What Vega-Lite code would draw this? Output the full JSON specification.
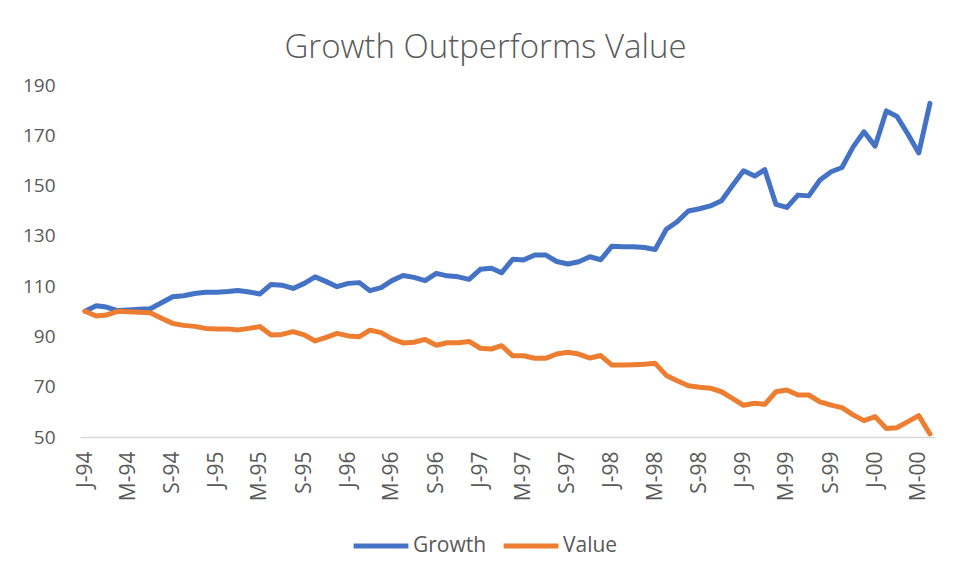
{
  "$schema": "https://vega.github.io/schema/vega-lite/v6.json",
  "width": 855,
  "height": 352,
  "autosize": "none",
  "padding": {"left": 80, "top": 85, "right": 26, "bottom": 140},
  "background": "white",
  "config": {"view": {"stroke": null}, "font": "Open Sans"},
  "title": {"text": "Growth Outperforms Value", "fontSize": 33, "font": "Open Sans", "fontWeight": 300, "color": "#595959", "anchor": "middle", "frame": "group", "dx": -22, "dy": 31, "baseline": "alphabetic", "offset": 16},
  "data": {"values": [
    {"date": "1994-01-01", "Growth": 100, "Value": 100},
    {"date": "1994-02-01", "Growth": 102.2, "Value": 98.1},
    {"date": "1994-03-01", "Growth": 101.7, "Value": 98.5},
    {"date": "1994-04-01", "Growth": 100.3, "Value": 100},
    {"date": "1994-05-01", "Growth": 100.5, "Value": 99.8},
    {"date": "1994-06-01", "Growth": 100.8, "Value": 99.6},
    {"date": "1994-07-01", "Growth": 101, "Value": 99.4},
    {"date": "1994-08-01", "Growth": 103.4, "Value": 97.2},
    {"date": "1994-09-01", "Growth": 105.8, "Value": 95.2},
    {"date": "1994-10-01", "Growth": 106.2, "Value": 94.4},
    {"date": "1994-11-01", "Growth": 107.1, "Value": 94},
    {"date": "1994-12-01", "Growth": 107.6, "Value": 93.2},
    {"date": "1995-01-01", "Growth": 107.6, "Value": 93},
    {"date": "1995-02-01", "Growth": 107.9, "Value": 93},
    {"date": "1995-03-01", "Growth": 108.3, "Value": 92.6},
    {"date": "1995-04-01", "Growth": 107.7, "Value": 93.2},
    {"date": "1995-05-01", "Growth": 106.9, "Value": 93.9},
    {"date": "1995-06-01", "Growth": 110.7, "Value": 90.6},
    {"date": "1995-07-01", "Growth": 110.4, "Value": 90.8},
    {"date": "1995-08-01", "Growth": 109.1, "Value": 91.9},
    {"date": "1995-09-01", "Growth": 111.1, "Value": 90.6},
    {"date": "1995-10-01", "Growth": 113.7, "Value": 88.2},
    {"date": "1995-11-01", "Growth": 111.8, "Value": 89.6},
    {"date": "1995-12-01", "Growth": 109.8, "Value": 91.2},
    {"date": "1996-01-01", "Growth": 111.1, "Value": 90.2},
    {"date": "1996-02-01", "Growth": 111.4, "Value": 89.9},
    {"date": "1996-03-01", "Growth": 108.2, "Value": 92.5},
    {"date": "1996-04-01", "Growth": 109.4, "Value": 91.5},
    {"date": "1996-05-01", "Growth": 112.2, "Value": 89},
    {"date": "1996-06-01", "Growth": 114.2, "Value": 87.4},
    {"date": "1996-07-01", "Growth": 113.5, "Value": 87.7},
    {"date": "1996-08-01", "Growth": 112.2, "Value": 88.8},
    {"date": "1996-09-01", "Growth": 115.1, "Value": 86.5},
    {"date": "1996-10-01", "Growth": 114.1, "Value": 87.5},
    {"date": "1996-11-01", "Growth": 113.7, "Value": 87.5},
    {"date": "1996-12-01", "Growth": 112.7, "Value": 88},
    {"date": "1997-01-01", "Growth": 116.7, "Value": 85.3},
    {"date": "1997-02-01", "Growth": 117.1, "Value": 85},
    {"date": "1997-03-01", "Growth": 115.3, "Value": 86.3},
    {"date": "1997-04-01", "Growth": 120.7, "Value": 82.3},
    {"date": "1997-05-01", "Growth": 120.4, "Value": 82.3},
    {"date": "1997-06-01", "Growth": 122.4, "Value": 81.3},
    {"date": "1997-07-01", "Growth": 122.4, "Value": 81.3},
    {"date": "1997-08-01", "Growth": 119.8, "Value": 83},
    {"date": "1997-09-01", "Growth": 118.8, "Value": 83.7},
    {"date": "1997-10-01", "Growth": 119.7, "Value": 83},
    {"date": "1997-11-01", "Growth": 121.7, "Value": 81.4},
    {"date": "1997-12-01", "Growth": 120.5, "Value": 82.4},
    {"date": "1998-01-01", "Growth": 125.9, "Value": 78.6},
    {"date": "1998-02-01", "Growth": 125.7, "Value": 78.6},
    {"date": "1998-03-01", "Growth": 125.7, "Value": 78.7},
    {"date": "1998-04-01", "Growth": 125.4, "Value": 78.9},
    {"date": "1998-05-01", "Growth": 124.6, "Value": 79.3},
    {"date": "1998-06-01", "Growth": 132.6, "Value": 74.5},
    {"date": "1998-07-01", "Growth": 135.6, "Value": 72.4},
    {"date": "1998-08-01", "Growth": 139.9, "Value": 70.4},
    {"date": "1998-09-01", "Growth": 140.8, "Value": 69.8},
    {"date": "1998-10-01", "Growth": 141.9, "Value": 69.4},
    {"date": "1998-11-01", "Growth": 144, "Value": 68},
    {"date": "1998-12-01", "Growth": 149.9, "Value": 65.4},
    {"date": "1999-01-01", "Growth": 155.9, "Value": 62.6},
    {"date": "1999-02-01", "Growth": 153.8, "Value": 63.4},
    {"date": "1999-03-01", "Growth": 156.3, "Value": 63},
    {"date": "1999-04-01", "Growth": 142.5, "Value": 68},
    {"date": "1999-05-01", "Growth": 141.3, "Value": 68.7},
    {"date": "1999-06-01", "Growth": 146.2, "Value": 66.7},
    {"date": "1999-07-01", "Growth": 145.9, "Value": 66.7},
    {"date": "1999-08-01", "Growth": 152.2, "Value": 64},
    {"date": "1999-09-01", "Growth": 155.5, "Value": 62.7},
    {"date": "1999-10-01", "Growth": 157.2, "Value": 61.7},
    {"date": "1999-11-01", "Growth": 165.4, "Value": 58.8},
    {"date": "1999-12-01", "Growth": 171.4, "Value": 56.5},
    {"date": "2000-01-01", "Growth": 165.7, "Value": 58.1},
    {"date": "2000-02-01", "Growth": 179.7, "Value": 53.4},
    {"date": "2000-03-01", "Growth": 177.6, "Value": 53.7},
    {"date": "2000-04-01", "Growth": 170.4, "Value": 56.1},
    {"date": "2000-05-01", "Growth": 163, "Value": 58.5},
    {"date": "2000-06-01", "Growth": 182.7, "Value": 51.2}
  ]},
  "transform": [{"fold": ["Growth", "Value"], "as": ["series", "index"]}],
  "mark": {"type": "line", "strokeWidth": 5, "strokeCap": "round", "strokeJoin": "round"},
  "encoding": {
    "x": {
      "field": "date", "type": "temporal",
      "scale": {"type": "utc", "domain": [{"year": 1993, "month": 12, "date": 18, "utc": true}, {"year": 2000, "month": 6, "date": 15, "utc": true}]},
      "axis": {
        "title": null, "grid": false, "ticks": false,
        "domainColor": "#d9d9d9", "domainWidth": 1.5,
        "tickCount": {"interval": "month", "step": 4},
        "labelExpr": "substring(utcFormat(datum.value, '%b'), 0, 1) + '-' + utcFormat(datum.value, '%y')",
        "labelAngle": -90, "labelFontSize": 21, "labelColor": "#595959", "labelFont": "Open Sans",
        "labelPadding": 14, "labelFlush": false, "labelOverlap": false, "labelBound": false
      }
    },
    "y": {
      "field": "index", "type": "quantitative",
      "scale": {"domain": [50, 190], "nice": false, "zero": false},
      "axis": {
        "title": null, "grid": false, "ticks": false, "domain": false,
        "values": [50, 70, 90, 110, 130, 150, 170, 190],
        "labelFontSize": 19, "labelColor": "#595959", "labelFont": "Open Sans", "labelPadding": 25
      }
    },
    "color": {
      "field": "series", "type": "nominal",
      "scale": {"domain": ["Growth", "Value"], "range": ["#4472C4", "#ED7D31"]},
      "legend": {
        "title": null, "orient": "none", "direction": "horizontal",
        "legendX": 271, "legendY": 431,
        "symbolType": "stroke", "symbolSize": 3000, "symbolStrokeWidth": 5,
        "labelFontSize": 21, "labelColor": "#595959", "labelFont": "Open Sans",
        "labelOffset": 2, "columnPadding": 6
      }
    }
  }
}
